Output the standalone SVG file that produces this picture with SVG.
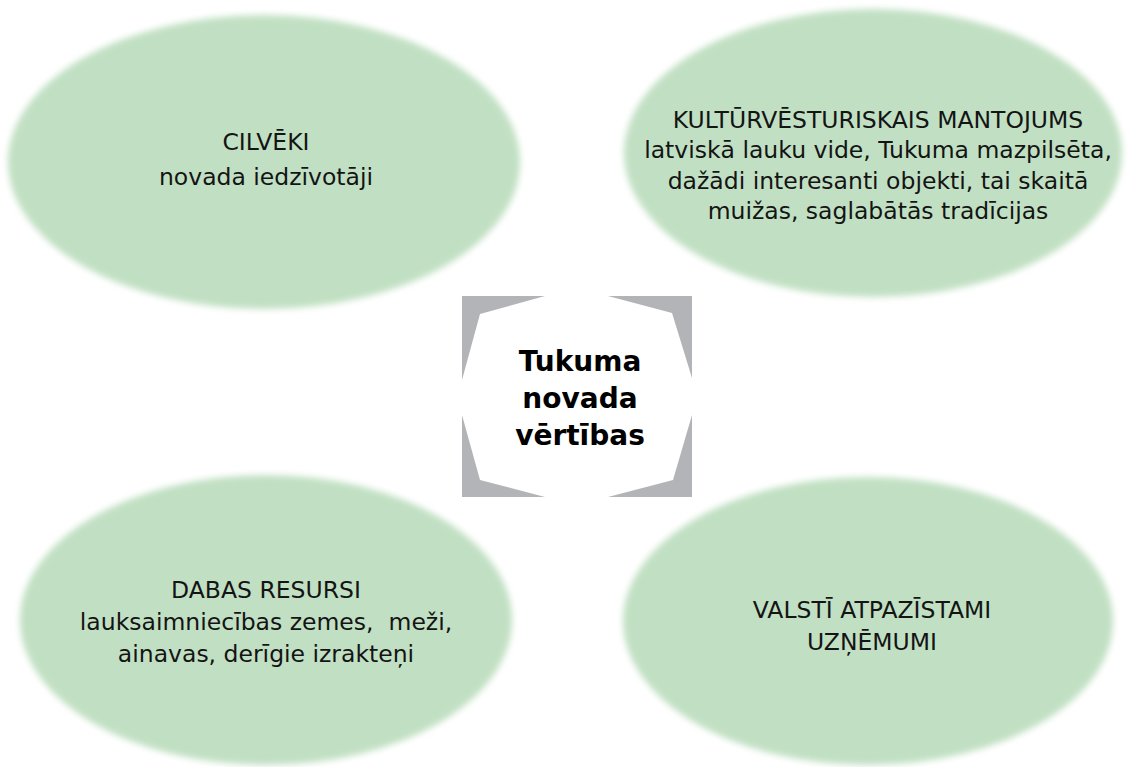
<svg xmlns="http://www.w3.org/2000/svg" width="1131" height="767" viewBox="0 0 1131 767">
<defs>
<filter id="soft" x="-5%" y="-5%" width="110%" height="110%"><feGaussianBlur stdDeviation="3"/></filter>
</defs>
<style>
.ell{fill:#c1e0c3;filter:url(#soft)}
.t{font-family:"DejaVu Sans",Verdana,sans-serif;font-size:23.5px;fill:#141414;text-anchor:middle}
.c{font-family:"DejaVu Sans",Verdana,sans-serif;font-size:28px;font-weight:bold;fill:#000;text-anchor:middle}
</style>
<rect width="1131" height="767" fill="#fff"/>
<g id="node-cilveki">
<ellipse class="ell" cx="264" cy="162" rx="256" ry="147"/>
<text class="t" x="266" y="150">CILVĒKI</text>
<text class="t" x="266" y="185">novada iedzīvotāji</text>
</g>
<g id="node-kultura">
<ellipse class="ell" cx="873" cy="153" rx="249" ry="144"/>
<text class="t" x="878" y="128">KULTŪRVĒSTURISKAIS MANTOJUMS</text>
<text class="t" x="878" y="158">latviskā lauku vide, Tukuma mazpilsēta,</text>
<text class="t" x="878" y="189">dažādi interesanti objekti, tai skaitā</text>
<text class="t" x="878" y="219">muižas, saglabātās tradīcijas</text>
</g>
<g id="node-center">
<rect x="462" y="296" width="230" height="201" fill="#b3b4b7"/>
<polygon points="545,296 608,296 672,313 692,378 692,415 673,480 608,497 545,497 480,480 462,415 462,380 480,314" fill="#fff"/>
<text class="c" x="580" y="371">Tukuma</text>
<text class="c" x="580" y="408">novada</text>
<text class="c" x="580" y="445">vērtības</text>
</g>
<g id="node-daba">
<ellipse class="ell" cx="266" cy="620" rx="246" ry="145"/>
<text class="t" x="266" y="598">DABAS RESURSI</text>
<text class="t" x="266" y="630" xml:space="preserve">lauksaimniecības zemes,  meži,</text>
<text class="t" x="266" y="662">ainavas, derīgie izrakteņi</text>
</g>
<g id="node-uznemumi">
<ellipse class="ell" cx="868" cy="621" rx="245" ry="144"/>
<text class="t" x="872" y="618">VALSTĪ ATPAZĪSTAMI</text>
<text class="t" x="872" y="650">UZŅĒMUMI</text>
</g>
<g id="connectors"></g>
</svg>
